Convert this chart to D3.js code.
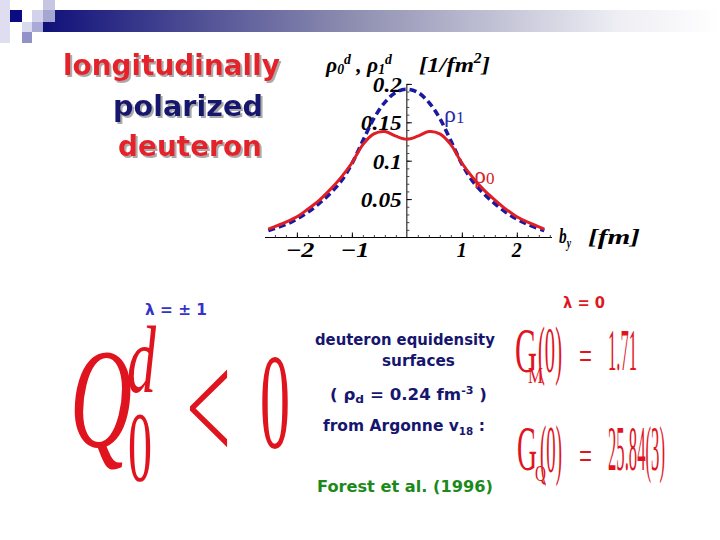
<!DOCTYPE html>
<html><head><meta charset="utf-8">
<script src="https://cdn.jsdelivr.net/npm/d3@7"></script>
<style>html,body{margin:0;padding:0;background:#fff;} svg{display:block;}</style>
</head><body>
<svg id="c" width="720" height="540"></svg>
<script>
// ---- data ----
const bValues    = [-2.52, -2.2, -2.0, -1.8, -1.6, -1.4, -1.2, -1.0, -0.8, -0.6, -0.4, -0.2, 0, 0.2, 0.4, 0.6, 0.8, 1.0, 1.2, 1.4, 1.6, 1.8, 2.0, 2.2, 2.5];
const rho0Values = [0.011, 0.020, 0.027, 0.037, 0.048, 0.062, 0.078, 0.097, 0.121, 0.135, 0.138, 0.132, 0.128, 0.132, 0.138, 0.135, 0.121, 0.097, 0.078, 0.062, 0.049, 0.037, 0.027, 0.020, 0.011];
const rho1Values = [0.009, 0.017, 0.024, 0.033, 0.044, 0.057, 0.073, 0.096, 0.126, 0.155, 0.176, 0.189, 0.193, 0.189, 0.176, 0.155, 0.126, 0.096, 0.073, 0.057, 0.044, 0.033, 0.024, 0.017, 0.009];
const xTickValues = [-2, -1, 1, 2];
const xTickLabels = ["\u22122", "\u22121", "1", "2"];
const yTickValues = [0.05, 0.1, 0.15, 0.2];
const yTickLabels = ["0.05", "0.1", "0.15", "0.2"];
const titleLines = ["longitudinally", "polarized", "deuteron"];
const noteLines = ["deuteron equidensity", "surfaces"];

const svg = d3.select("#c");
const RED = "#e3202a", NAVY = "#16166e";

// ---- defs ----
const defs = svg.append("defs");
const gr = defs.append("linearGradient").attr("id", "hdr").attr("x1", "0").attr("x2", "1");
gr.append("stop").attr("offset", "0").attr("stop-color", "#10107a");
gr.append("stop").attr("offset", "0.45").attr("stop-color", "#8c8cb0");
gr.append("stop").attr("offset", "0.85").attr("stop-color", "#eeeef4");
gr.append("stop").attr("offset", "1").attr("stop-color", "#ffffff");
const sh = defs.append("filter").attr("id", "shadow").attr("x", "-5%").attr("y", "-10%").attr("width", "115%").attr("height", "130%");
sh.append("feDropShadow").attr("dx", 2).attr("dy", 2).attr("stdDeviation", 0.3).attr("flood-color", "#9a9a9a").attr("flood-opacity", 0.85);

// ---- header decoration ----
svg.append("rect").attr("x", 43).attr("y", 10).attr("width", 677).attr("height", 22).attr("fill", "url(#hdr)");
const squares = [
  [0, 0, 10, 43, "#dedef0"], [10, 10, 12, 12, "#0c0c82"], [32, 10, 11, 12, "#d2d2ea"],
  [43, 0, 12, 10, "#c6c6e2"], [43, 10, 12, 12, "#a6a6d2"], [22, 22, 10, 10, "#dadaee"],
  [32, 22, 11, 10, "#aaaad6"], [22, 32, 10, 11, "#9292c8"]
];
svg.selectAll("rect.sq").data(squares).join("rect").attr("class", "sq")
  .attr("x", d => d[0]).attr("y", d => d[1]).attr("width", d => d[2]).attr("height", d => d[3]).attr("fill", d => d[4]);

// ---- helper: text scaled horizontally to a width ----
function fit(g, x, y, str, w, style, build) {
  const t = g.append("text").attr("x", 0).attr("y", 0);
  Object.entries(style).forEach(([k, v]) => t.style(k, v));
  if (build) build(t); else t.text(str);
  let sx = 1;
  if (w) { const w0 = t.node().getComputedTextLength(); if (w0 > 0) sx = w / w0; }
  t.attr("transform", `translate(${x},${y}) scale(${sx},1)`);
  return t;
}

// ---- title with shadow ----
const titleFont = {"font-family": "'Comic Sans MS','DejaVu Sans',sans-serif", "font-weight": "bold", "font-size": "29px"};
const titlePos = [[63, 75, 217], [113, 116, 150], [118, 156, 144]];
const titleCol = [RED, NAVY, RED];
titleLines.forEach((s, i) => {
  const [x, y, w] = titlePos[i];
  fit(svg, x, y, s, w, Object.assign({fill: titleCol[i]}, titleFont)).attr("filter", "url(#shadow)");
});

// ---- chart ----
const x = d3.scaleLinear().domain([-2.58, 2.64]).range([265, 552]);
const y = d3.scaleLinear().domain([0, 0.2]).range([237.5, 83.9]);
const g = svg.append("g");

g.append("line").attr("x1", x(-2.58)).attr("x2", x(2.64)).attr("y1", y(0)).attr("y2", y(0)).attr("stroke", "#000").attr("stroke-width", 1);
const xMinor = d3.range(-2.4, 2.61, 0.2).filter(v => Math.abs(v) > 1e-6);
g.append("g").attr("transform", `translate(0,${y(0)})`)
  .call(d3.axisTop(x).tickValues(xMinor).tickSize(2.5).tickFormat(""))
  .call(s => s.select(".domain").remove()).call(s => s.selectAll("line").attr("stroke", "#444"));
g.append("g").attr("transform", `translate(0,${y(0)})`)
  .call(d3.axisTop(x).tickValues(xTickValues).tickSize(5).tickFormat(""))
  .call(s => s.select(".domain").remove());
g.append("line").attr("x1", x(0)).attr("x2", x(0)).attr("y1", y(0)).attr("y2", y(0.2)).attr("stroke", "#000").attr("stroke-width", 1);
const yMinor = d3.range(0.01, 0.2001, 0.01);
g.append("g").attr("transform", `translate(${x(0)},0)`)
  .call(d3.axisRight(y).tickValues(yMinor).tickSize(2.5).tickFormat(""))
  .call(s => s.select(".domain").remove()).call(s => s.selectAll("line").attr("stroke", "#444"));
g.append("g").attr("transform", `translate(${x(0)},0)`)
  .call(d3.axisRight(y).tickValues(yTickValues).tickSize(5).tickFormat(""))
  .call(s => s.select(".domain").remove());

const serif = "'Liberation Serif','Times New Roman',serif";
const tickFont = {"font-family": serif, "font-weight": "bold", "font-style": "italic", "font-size": "21px", fill: "#000"};
xTickValues.forEach((v, i) => {
  const s = xTickLabels[i];
  const w = s.length === 2 ? 29 : 10;
  fit(g, x(v) - w / 2 + (v < 0 ? 3 : 0), 257, s, w, tickFont);
});
yTickValues.forEach((v, i) => {
  const s = yTickLabels[i];
  const w = (s.length - 1) * 12 + 5;
  fit(g, x(0) - 5 - w, y(v) + 8, s, w, tickFont);
});

// curves
const line = (vals) => d3.line().x((d, i) => x(bValues[i])).y(d => y(d)).curve(d3.curveCatmullRom.alpha(0.5))(vals);
g.append("path").attr("d", line(rho1Values)).attr("fill", "none").attr("stroke", "#1a1aa0").attr("stroke-width", 3.6).attr("stroke-dasharray", "7,4");
g.append("path").attr("d", line(rho0Values)).attr("fill", "none").attr("stroke", "#e01e26").attr("stroke-width", 3);

// axis titles
const axFont = {"font-family": serif, "font-weight": "bold", "font-style": "italic", "font-size": "22px", fill: "#000"};
fit(g, 326, 72, "", 66, axFont, t => {
  t.append("tspan").text("\u03c1");
  t.append("tspan").attr("dy", 2).style("font-size", "14px").text("0");
  t.append("tspan").attr("dy", -10).style("font-size", "14px").text("d");
  t.append("tspan").attr("dy", 8).text(" , \u03c1");
  t.append("tspan").attr("dy", 2).style("font-size", "14px").text("1");
  t.append("tspan").attr("dy", -10).style("font-size", "14px").text("d");
});
fit(g, 419, 72, "", 71, axFont, t => {
  t.append("tspan").text("[1/fm");
  t.append("tspan").attr("dy", -9).style("font-size", "14px").text("2");
  t.append("tspan").attr("dy", 9).text("]");
});
fit(g, 559, 243, "", 12, axFont, t => {
  t.append("tspan").text("b");
  t.append("tspan").attr("dy", 5).style("font-size", "14px").text("y");
});
fit(g, 588, 244, "[fm]", 52, axFont);

// curve labels
g.append("text").attr("x", 444).attr("y", 122).style("font-family", serif).style("font-size", "24px").style("fill", "#2a2aa8").text("\u03c1")
  .append("tspan").attr("dy", 1).style("font-size", "17px").text("1");
g.append("text").attr("x", 474).attr("y", 183).style("font-family", serif).style("font-size", "24px").style("fill", "#d82028").text("\u03c1")
  .append("tspan").attr("dy", 1).style("font-size", "17px").text("0");

// ---- lambda labels ----
const smallBold = {"font-family": "'Comic Sans MS','DejaVu Sans',sans-serif", "font-weight": "bold", "font-size": "15px"};
fit(svg, 145, 315, "\u03bb =  \u00b1 1", 62, Object.assign({fill: "#3333c8"}, smallBold));
fit(svg, 563, 308, "\u03bb =  0", 42, Object.assign({fill: "#dd1a22"}, smallBold));

// ---- notes ----
const noteFont = {"font-family": "'Comic Sans MS','DejaVu Sans',sans-serif", "font-weight": "bold", "font-size": "15px", fill: NAVY};
fit(svg, 315, 345, noteLines[0], 180, noteFont);
fit(svg, 382, 366, noteLines[1], 73, noteFont);
fit(svg, 330, 400, "", 157, noteFont, t => {
  t.append("tspan").text("( \u03c1");
  t.append("tspan").attr("dy", 3).style("font-size", "11px").text("d");
  t.append("tspan").attr("dy", -3).text(" = 0.24 fm");
  t.append("tspan").attr("dy", -6).style("font-size", "10px").text("-3");
  t.append("tspan").attr("dy", 6).text(" )");
});
fit(svg, 323, 431, "", 162, noteFont, t => {
  t.append("tspan").text("from Argonne v");
  t.append("tspan").attr("dy", 4).style("font-size", "10px").text("18");
  t.append("tspan").attr("dy", -4).text(" :");
});
fit(svg, 317, 492, "Forest et al. (1996)", 176, Object.assign({}, noteFont, {fill: "#1b8a1b"}));

// ---- big formula Q_0^d < 0 ----
const RF = "#e0141e";
fit(svg, 70, 447, "Q", 62, {"font-family": serif, "font-style": "italic", "font-size": "142px", fill: RF});
fit(svg, 127, 392, "d", 29, {"font-family": serif, "font-style": "italic", "font-size": "96px", fill: RF});
fit(svg, 128, 480, "0", 24, {"font-family": serif, "font-size": "100px", fill: RF});
fit(svg, 186, 462, "<", 45, {"font-family": serif, "font-size": "160px", fill: RF});
fit(svg, 260, 448, "0", 30, {"font-family": serif, "font-size": "136px", fill: RF});

// ---- G_M(0), G_Q(0) ----
const gf = (fs) => ({"font-family": serif, "font-size": fs + "px", fill: RF});
fit(svg, 515, 372, "G", 22, gf(64));
fit(svg, 528, 383, "M", 15, gf(24));
fit(svg, 538, 372, "(0)", 24, gf(66));
fit(svg, 579, 370, "=", 13, gf(40));
fit(svg, 608, 370, "1.71", 29, gf(60));

fit(svg, 517, 470, "G", 20, gf(64));
fit(svg, 535, 481, "Q", 11, gf(24));
fit(svg, 540, 472, "(0)", 22, gf(68));
fit(svg, 579, 470, "=", 13, gf(40));
fit(svg, 608, 470, "25.84(3)", 57, gf(64));
</script>
</body></html>
